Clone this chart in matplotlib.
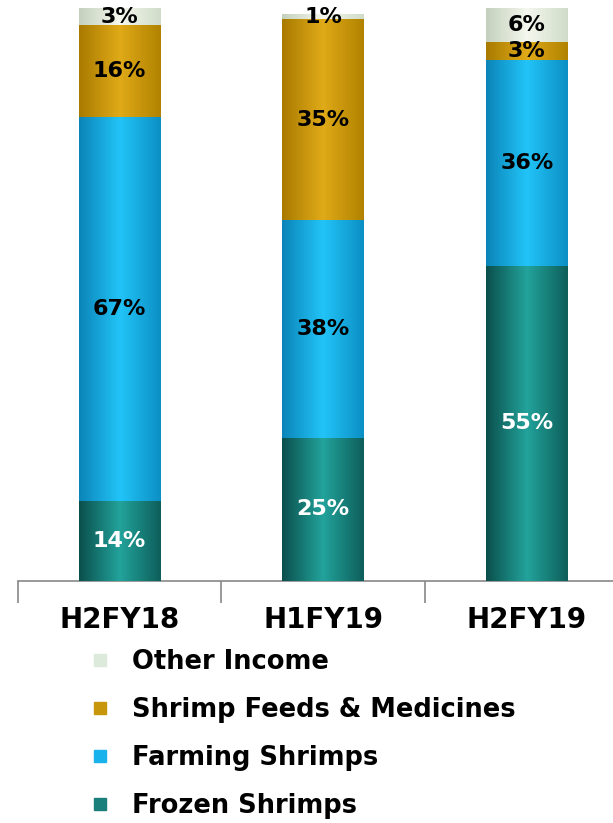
import numpy as np
import matplotlib.pyplot as plt
from matplotlib.lines import Line2D
from matplotlib.colors import LinearSegmentedColormap

periods = ['H2FY18', 'H1FY19', 'H2FY19']
frozen = [14, 25, 55]
farming = [67, 38, 36]
feeds = [16, 35, 3]
other = [3, 1, 6]

series = [
    ('Frozen Shrimps', frozen, '#1a7f7a', ('#0b4f4c', '#22a39b', '#0e5e5a'), 'white'),
    ('Farming Shrimps', farming, '#19b2ea', ('#0b84b8', '#22c4f8', '#0c8fc4'), 'black'),
    ('Shrimp Feeds & Medicines', feeds, '#c8960a', ('#a87a00', '#e0aa18', '#b08200'), 'black'),
    ('Other Income', other, '#dceadc', ('#c4d0bc', '#f4f8ee', '#d0dcc8'), 'black'),
]

fig = plt.figure(figsize=(6.13, 8.23), dpi=100)
ax = fig.add_axes([17.6 / 613, 242 / 823, 611 / 613, 573 / 823])

x = np.arange(len(periods))
bottom = np.zeros(len(periods))
grad = np.linspace(0, 1, 256).reshape(1, -1)
for name, vals, col, shades, tcol in series:
    vals = np.array(vals, dtype=float)
    bars = ax.bar(x, vals, 0.4, bottom=bottom, color=col, zorder=2)
    cmap = LinearSegmentedColormap.from_list(name, [shades[0], shades[1], shades[2]])
    for b in bars:
        x0, y0 = b.get_x(), b.get_y()
        im = ax.imshow(grad, cmap=cmap, aspect='auto', zorder=3,
                       extent=[x0, x0 + b.get_width(), y0, y0 + b.get_height()])
        im.set_clip_path(b)
    for xi, v, b0 in zip(x, vals, bottom):
        ax.text(xi, b0 + v / 2, f'{int(v)}%', ha='center', va='center',
                fontsize=16, fontweight='bold', color=tcol, zorder=4)
    bottom += vals

ax.set_xlim(-0.5, 2.5)
ax.set_ylim(0, 100)
for s in ['top', 'right', 'left']:
    ax.spines[s].set_visible(False)
ax.spines['bottom'].set_color('#888888')
ax.spines['bottom'].set_linewidth(1.2)
ax.set_yticks([])
ax.set_xticks([-0.5, 0.5, 1.5], minor=True)
ax.tick_params(axis='x', which='minor', length=16, color='#888888', width=1.2, direction='out')
ax.set_xticks(x)
ax.set_xticklabels(periods, fontsize=20, fontweight='bold')
ax.tick_params(axis='x', which='major', length=0, pad=18)

handles = [Line2D([], [], marker='s', linestyle='', markersize=9, color=s[2]) for s in series[::-1]]
labels = [s[0] for s in series[::-1]]
fig.legend(handles, labels, loc='upper left', bbox_to_anchor=(77 / 613, 1 - 639 / 823),
           frameon=False, prop={'weight': 'bold', 'size': 18.5},
           handlelength=1.0, handletextpad=0.75, labelspacing=0.85, borderaxespad=0)

fig.savefig('out.png', dpi=100)
